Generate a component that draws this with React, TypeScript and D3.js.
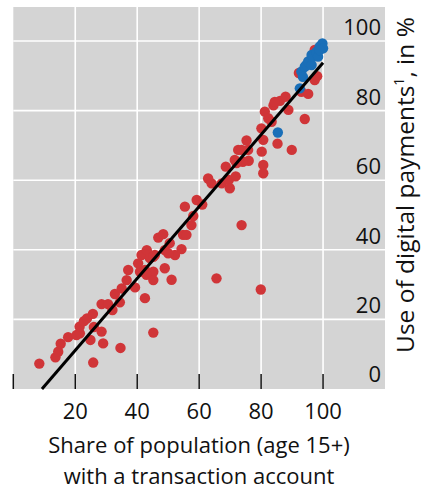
import React from "react";
import * as d3 from "d3";

// Share of population with a transaction account (x) vs use of digital payments (y)
const redX = [8.4,13.6,14.5,15.3,17.7,20.4,21.5,21.4,22.8,23.8,25.7,26.0,28.5,24.9,29.0,25.8,34.6,28.5,30.6,32.0,32.8,34.4,35.0,36.6,37.1,39.3,42.5,40.3,41.4,43.1,44.1,45.7,42.5,45.2,43.0,40.9,48.9,51.1,45.2,46.8,48.4,50.5,52.2,54.3,54.8,48.9,50.0,45.2,57.5,58.1,55.9,55.4,59.2,61.0,62.9,64.0,67.3,69.6,69.9,68.6,71.5,72.6,71.8,73.7,65.6,79.9,45.2,73.7,75.3,75.8,76.0,74.1,72.1,80.2,80.7,80.1,81.2,82.3,83.4,84.0,86.1,87.9,88.8,85.3,89.9,80.7,80.7,94.1,93.0,95.2,92.2,97.3,98.1,97.3,84.4];
const redY = [7.3,9.1,10.7,13.0,14.9,15.5,16.0,17.9,19.5,20.3,21.6,17.8,16.5,14.1,13.1,7.6,11.8,24.4,24.4,22.7,27.3,24.9,28.9,31.3,34.2,29.2,26.1,36.1,38.5,39.9,37.6,38.5,34.2,33.7,32.8,33.7,34.7,31.4,31.3,43.5,44.5,41.9,38.5,40.2,44.3,39.9,39.0,38.0,47.1,49.7,44.3,52.4,54.3,53.0,60.5,59.1,59.1,60.1,57.7,63.9,65.8,68.7,61.1,47.1,31.8,28.6,16.2,68.7,71.4,68.7,65.6,65.3,64.9,68.2,71.6,74.9,79.7,77.8,76.8,81.5,82.8,84.0,80.2,70.5,68.7,62.0,64.4,77.6,85.4,84.8,90.8,88.8,89.9,97.4,82.5];
const blueX = [85.4,92.5,93.0,94.1,94.6,95.2,96.3,96.3,96.8,97.9,98.4,98.9,99.8,100.0,98.9,93.5];
const blueY = [73.7,86.4,91.2,92.6,93.1,94.1,96.0,93.1,95.5,96.9,95.5,98.4,99.3,97.9,97.4,89.7];

const xTicks = [20, 40, 60, 80, 100];
const xTickMarks = [0, 20, 40, 60, 80, 100];
const yTicks = [0, 20, 40, 60, 80, 100];
const xGrid = [20, 40, 60, 80, 100];
const fitX = [9.25, 100];
const fitSlope = 1.033;
const fitIntercept = -9.55;

const W = 423, H = 490;
const FONT = "'Open Sans', 'Noto Sans', sans-serif";

export default function App() {
  const x = d3.scaleLinear().domain([0, 120]).range([13.3, 385]);
  const y = d3.scaleLinear().domain([0, 100]).range([389, 41]);
  const top = 7;
  const line = d3.line<number>().x((d) => x(d)).y((d) => y(fitSlope * d + fitIntercept));

  return (
    <svg width={W} height={H} style={{ position: "absolute", left: 0, top: 0 }} fontFamily={FONT}>
      <rect x={x(0)} y={top} width={x(120) - x(0)} height={y(0) - top} fill="#d4d4d4" />
      {xGrid.map((v) => (
        <line key={"gx" + v} x1={x(v)} x2={x(v)} y1={top} y2={y(0)} stroke="#fff" strokeWidth={1.6} />
      ))}
      {yTicks.filter((v) => v > 0).map((v) => (
        <line key={"gy" + v} x1={x(0)} x2={x(120)} y1={y(v)} y2={y(v)} stroke="#fff" strokeWidth={1.6} />
      ))}
      {xTickMarks.map((v) => (
        <line key={"tm" + v} x1={x(v)} x2={x(v)} y1={y(0) - 15} y2={y(0)} stroke="#111" strokeWidth={1.5} />
      ))}
      {redX.map((v, i) => (
        <circle key={"r" + i} cx={x(v)} cy={y(redY[i])} r={5.2} fill="#d03538" />
      ))}
      {blueX.map((v, i) => (
        <circle key={"b" + i} cx={x(v)} cy={y(blueY[i])} r={5.2} fill="#1a6fb8" />
      ))}
      <path d={line(fitX) || ""} stroke="#000" strokeWidth={3} fill="none" />
      {yTicks.map((v) => (
        <text key={"yl" + v} x={381} y={y(v) - (v === 0 ? 7 : 6)} textAnchor="end" fontSize={22} fill="#111">
          {v}
        </text>
      ))}
      {xTicks.map((v) => (
        <text key={"xl" + v} x={x(v)} y={419} textAnchor="middle" fontSize={22} fill="#111">
          {v}
        </text>
      ))}
      <text x={199} y={453} textAnchor="middle" fontSize={22} fill="#111">Share of population (age 15+)</text>
      <text x={199} y={483.5} textAnchor="middle" fontSize={22} fill="#111">with a transaction account</text>
      <text transform="translate(414,185) rotate(-90)" textAnchor="middle" fontSize={24.5} fill="#111">
        Use of digital payments<tspan dy={-10} fontSize={14}>1</tspan><tspan dy={10}>, in %</tspan>
      </text>
    </svg>
  );
}
